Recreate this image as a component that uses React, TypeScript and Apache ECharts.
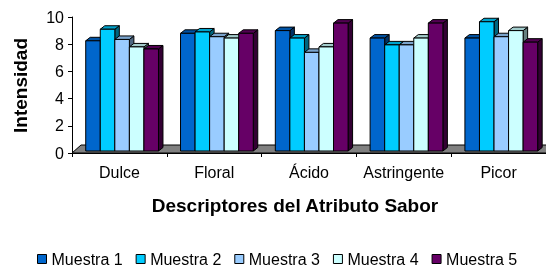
import React, { useEffect, useRef } from "react";
import * as echarts from "echarts";

const categories = ["Dulce", "Floral", "Ácido", "Astringente", "Picor"];
const seriesNames = ["Muestra 1", "Muestra 2", "Muestra 3", "Muestra 4", "Muestra 5"];
const muestra1 = [8.25, 8.8, 9.0, 8.45, 8.45];
const muestra2 = [9.1, 8.9, 8.45, 7.95, 9.65];
const muestra3 = [8.35, 8.55, 7.4, 7.95, 8.55];
const muestra4 = [7.8, 8.45, 7.8, 8.45, 9.0];
const muestra5 = [7.65, 8.8, 9.55, 9.55, 8.15];
const allValues = [muestra1, muestra2, muestra3, muestra4, muestra5];
const yTicks = [0, 2, 4, 6, 8, 10];

const frontColors = ["#0066CC", "#00CCFF", "#99CCFF", "#CCFFFF", "#660066"];
const topColors = ["#0052A3", "#00A3CC", "#7AA3CC", "#A3CCCC", "#520052"];
const sideColors = ["#003366", "#006680", "#4D6680", "#668080", "#330033"];

const FONT = "'Liberation Sans', Arial, sans-serif";

export default function App() {
  const ref = useRef<HTMLDivElement>(null);
  useEffect(() => {
    if (!ref.current) return;
    const chart = echarts.init(ref.current, undefined, { renderer: "svg" });
    const series = allValues.map((vals, s) => ({
      type: "custom",
      name: seriesNames[s],
      z: 3,
      itemStyle: { color: frontColors[s] },
      encode: { x: 0, y: 1 },
      data: vals.map((v, i) => [i, v]),
      renderItem: (params: any, api: any) => {
        const ci = api.value(0);
        const v = api.value(1);
        const top = api.coord([ci, v]);
        const base = api.coord([ci, 0]);
        const band = api.size([1, 0])[0];
        const w = band * 0.1535;
        const x0 = top[0] - 2.5 * w + s * w + 2.7;
        const yb = base[1] - 2;
        const yt = top[1];
        const dx = 4.5;
        const dy = 3.5;
        return {
          type: "group",
          children: [
            {
              type: "polygon",
              shape: { points: [[x0 + w, yb], [x0 + w + dx, yb - dy], [x0 + w + dx, yt - dy], [x0 + w, yt]] },
              style: { fill: sideColors[s], stroke: "#000", lineWidth: 1 },
            },
            {
              type: "polygon",
              shape: { points: [[x0, yt], [x0 + dx, yt - dy], [x0 + w + dx, yt - dy], [x0 + w, yt]] },
              style: { fill: topColors[s], stroke: "#000", lineWidth: 1 },
            },
            {
              type: "rect",
              shape: { x: x0, y: yt, width: w, height: yb - yt },
              style: { fill: frontColors[s], stroke: "#000", lineWidth: 1 },
            },
          ],
        };
      },
    }));
    chart.setOption({
      animation: false,
      grid: { left: 72, top: 17, width: 476, height: 136 },
      xAxis: {
        type: "category",
        data: categories,
        axisLine: { show: true, lineStyle: { color: "#000", width: 1 } },
        axisTick: { show: true, length: 4, lineStyle: { color: "#000" } },
        axisLabel: { color: "#000", fontSize: 16, fontFamily: FONT, margin: 11, interval: 0 },
        splitLine: { show: false },
      },
      yAxis: {
        type: "value",
        min: yTicks[0],
        max: yTicks[yTicks.length - 1],
        interval: 2,
        axisLine: { show: true, lineStyle: { color: "#000", width: 1 } },
        axisTick: { show: true, length: 4, lineStyle: { color: "#000" } },
        axisLabel: { color: "#000", fontSize: 16, fontFamily: FONT, margin: 8 },
        splitLine: { show: false },
      },
      legend: {
        left: 37,
        top: 251,
        padding: 0,
        itemWidth: 9,
        itemHeight: 9,
        itemGap: 13,
        icon: "rect",
        textStyle: { color: "#000", fontSize: 16, fontFamily: FONT },
        data: seriesNames.map((n, i) => ({
          name: n,
          itemStyle: { color: frontColors[i], borderColor: "#000", borderWidth: 1 },
        })),
      },
      graphic: [
        {
          type: "polygon",
          z: 1,
          shape: { points: [[72, 153], [81, 145], [556, 145], [547, 153]] },
          style: { fill: "#808080", stroke: "#000", lineWidth: 1 },
        },
        {
          type: "text",
          x: 20,
          y: 85.5,
          rotation: Math.PI / 2,
          style: {
            text: "Intensidad",
            fill: "#000",
            font: `bold 19px ${FONT}`,
            align: "center",
            verticalAlign: "middle",
          },
        },
        {
          type: "text",
          x: 295,
          y: 205,
          style: {
            text: "Descriptores del Atributo Sabor",
            fill: "#000",
            font: `bold 19px ${FONT}`,
            align: "center",
            verticalAlign: "middle",
          },
        },
      ],
      series,
    });
    return () => chart.dispose();
  }, []);
  return <div ref={ref} style={{ position: "fixed", left: 0, top: 0, width: 546, height: 267 }} />;
}
